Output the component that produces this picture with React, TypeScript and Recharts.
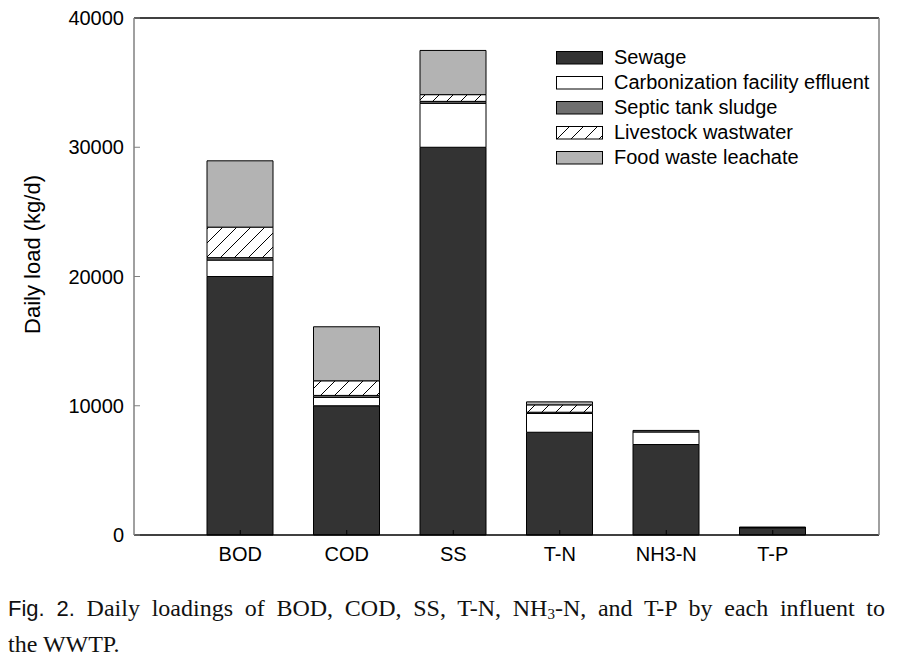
import React from 'react';
import { BarChart, Bar, XAxis, YAxis, Legend, Label, ReferenceLine } from 'recharts';

const categories = ['BOD', 'COD', 'SS', 'T-N', 'NH3-N', 'T-P'];
const sewage = [20000, 10000, 30000, 7950, 7000, 560];
const carbonization = [1270, 650, 3400, 1450, 970, 20];
const septic = [190, 150, 150, 100, 120, 10];
const livestock = [2360, 1130, 520, 570, 0, 0];
const foodWaste = [5130, 4180, 3420, 230, 0, 10];
const yTicks = [0, 10000, 20000, 30000, 40000];
const yMax = 40000;

const seriesNames = [
  'Sewage',
  'Carbonization facility effluent',
  'Septic tank sludge',
  'Livestock wastwater',
  'Food waste leachate',
];

const data = categories.map((c, i) => ({
  name: c,
  sewage: sewage[i],
  carbonization: carbonization[i],
  septic: septic[i],
  livestock: livestock[i],
  foodWaste: foodWaste[i],
}));

const FONT = '"Liberation Sans", Arial, sans-serif';
const fills = ['#333333', '#ffffff', '#6f6f6f', 'url(#hatch)', '#b3b3b3'];
const keys = ['sewage', 'carbonization', 'septic', 'livestock', 'foodWaste'];

const renderLegend = () => (
  <div style={{ fontFamily: FONT, fontSize: 20, color: '#000' }}>
    {seriesNames.map((n, i) => (
      <div key={n} style={{ height: 25, display: 'flex', alignItems: 'center' }}>
        <svg width={48} height={14} style={{ marginRight: 10, display: 'block', flex: 'none' }}>
          <rect x={0.5} y={0.5} width={46} height={12.5} fill={fills[i]} stroke="#000" strokeWidth={1} />
        </svg>
        <span style={{ whiteSpace: 'nowrap' }}>{n}</span>
      </div>
    ))}
  </div>
);

const renderYLabel = (props: any) => {
  const vb = props.viewBox || {};
  const cy = (vb.y || 0) + (vb.height || 0) / 2 - 22;
  const cx = 24;
  return (
    <text
      x={cx}
      y={cy}
      transform={`rotate(-90, ${cx}, ${cy})`}
      textAnchor="middle"
      dominantBaseline="central"
      fontFamily={FONT}
      fontSize={22}
      fill="#000"
    >
      Daily load (kg/d)
    </text>
  );
};

export default function App() {
  return (
    <div>
      <svg width={0} height={0} style={{ position: 'absolute' }}>
        <defs>
          <pattern id="hatch" patternUnits="userSpaceOnUse" width={14} height={14}>
            <rect x={0} y={0} width={14} height={14} fill="#fff" />
            <line x1={-1} y1={15} x2={15} y2={-1} stroke="#000" strokeWidth={1} />
          </pattern>
        </defs>
      </svg>
      <BarChart
        width={897}
        height={570}
        data={data}
        margin={{ top: 10, right: 25, bottom: 13, left: 46 }}
      >
        <ReferenceLine y={yMax} stroke="#000" strokeWidth={1.5} />
        <XAxis
          dataKey="name"
          padding={{ left: 53, right: 53 }}
          axisLine={{ stroke: '#000', strokeWidth: 1.5 }}
          tickLine={{ stroke: '#000' }}
          tickSize={-5}
          tickMargin={17}
          height={30}
          tick={{ fontFamily: FONT, fontSize: 20, fill: '#000' }}
          interval={0}
        />
        <YAxis
          domain={[0, yMax]}
          ticks={yTicks}
          width={80}
          axisLine={{ stroke: '#808080', strokeWidth: 1.5 }}
          tickLine={{ stroke: '#808080' }}
          tickSize={-6}
          tickMargin={16}
          tick={{ fontFamily: FONT, fontSize: 20, fill: '#000' }}
          interval={0}
        >
          <Label content={renderYLabel} />
        </YAxis>
        <YAxis
          yAxisId="right"
          orientation="right"
          domain={[0, yMax]}
          ticks={yTicks}
          width={1}
          axisLine={{ stroke: '#808080', strokeWidth: 1.5 }}
          tick={false}
          tickLine={false}
        />
        <Legend
          layout="vertical"
          verticalAlign="middle"
          align="center"
          content={renderLegend}
          wrapperStyle={{ left: 548, top: 37, width: 340 }}
        />
        {keys.map((k, i) => (
          <Bar
            key={k}
            dataKey={k}
            name={seriesNames[i]}
            stackId="a"
            fill={fills[i]}
            stroke="#000"
            strokeWidth={1}
            barSize={66}
            isAnimationActive={false}
          />
        ))}
      </BarChart>
      <div
        style={{
          width: 877,
          marginTop: 14,
          fontFamily: '"Liberation Serif", "Times New Roman", serif',
          fontSize: 24,
          lineHeight: '33px',
          color: '#111',
        }}
      >
        <div style={{ textAlign: 'justify', textAlignLast: 'justify' as any }}>
          <span style={{ fontFamily: FONT, fontSize: 22 }}>Fig. 2.</span>{' '}
          Daily loadings of BOD, COD, SS, T-N, NH
          <sub style={{ fontSize: 15, verticalAlign: 'baseline', position: 'relative', top: 3 }}>3</sub>
          -N, and T-P by each influent to
        </div>
        <div>the WWTP.</div>
      </div>
    </div>
  );
}
